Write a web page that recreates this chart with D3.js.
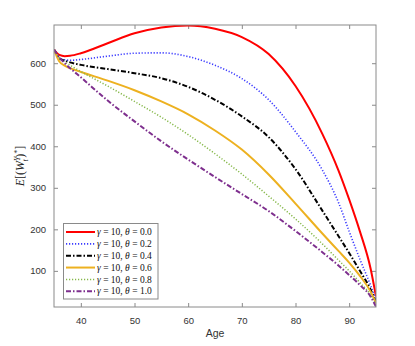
<!DOCTYPE html>
<html><head><meta charset="utf-8">
<script src="https://cdn.jsdelivr.net/npm/d3@7"></script>
<style>body{margin:0;background:#fff}svg{display:block}</style>
</head><body><div id="c"></div>
<script>
const ages    = [35,36,37,38,40,45,50,55,60,65,70,75,80,85,88,90,92,94,95];
const theta00 = [633,620,617,618,624,648,672,686,691,683,663,622,545,430,342,272,195,105,38];
const theta02 = [633,613,608,607,609,617,624,625,616,595,563,512,435,343,265,195,128,65,30];
const theta04 = [633,612,606,602,596,586,576,564,543,512,472,422,345,245,184,143,100,55,25];
const theta06 = [633,604,594,588,579,558,535,508,477,438,392,332,262,190,148,120,88,50,22];
const theta08 = [633,614,603,595,580,545,508,470,428,382,333,280,225,165,126,100,72,42,18];
const theta10 = [633,614,600,588,566,510,460,412,368,326,285,244,196,145,113,90,66,38,14];
const seriesLabels = ["0.0","0.2","0.4","0.6","0.8","1.0"];
const xTicks = [40,50,60,70,80,90];
const yTicks = [100,200,300,400,500,600];

const series = [theta00,theta02,theta04,theta06,theta08,theta10];
const styles = [
  {color:"#ff0000", dash:null, w:2},
  {color:"#3b3bff", dash:"1.2,1.8", w:1.6},
  {color:"#000000", dash:"5,2,1.5,2", w:2},
  {color:"#edb120", dash:null, w:2},
  {color:"#86b84a", dash:"1.2,1.8", w:1.5},
  {color:"#7e2f8e", dash:"5,2,1.5,2", w:2}
];

const W=415,H=346;
const m={l:54,t:25,r:376,b:307};
const svg=d3.select("#c").append("svg").attr("width",W).attr("height",H);
const x=d3.scaleLinear().domain([35,95]).range([m.l,m.r]);
const y=d3.scaleLinear().domain([13,692]).range([m.b,m.t]);

svg.append("defs").append("clipPath").attr("id","clip").append("rect")
  .attr("x",m.l).attr("y",m.t).attr("width",m.r-m.l).attr("height",m.b-m.t);

const axColor="#8a8a8a", txtColor="#333";
const font="'Liberation Sans', Arial, sans-serif";

const gx=svg.append("g").attr("transform",`translate(0,${m.b})`)
  .call(d3.axisBottom(x).tickValues(xTicks).tickSizeInner(-4).tickSizeOuter(0).tickPadding(8));
const gxt=svg.append("g").attr("transform",`translate(0,${m.t})`)
  .call(d3.axisTop(x).tickValues(xTicks).tickSizeInner(-4).tickSizeOuter(0).tickFormat(""));
const gy=svg.append("g").attr("transform",`translate(${m.l},0)`)
  .call(d3.axisLeft(y).tickValues(yTicks).tickSizeInner(-4).tickSizeOuter(0).tickPadding(8));
const gyr=svg.append("g").attr("transform",`translate(${m.r},0)`)
  .call(d3.axisRight(y).tickValues(yTicks).tickSizeInner(-4).tickSizeOuter(0).tickFormat(""));
[gx,gxt,gy,gyr].forEach(g=>{
  g.select(".domain").remove();
  g.selectAll("line").attr("stroke",axColor);
  g.selectAll("text").attr("fill",txtColor).style("font-family",font).style("font-size","9.5px");
});
gx.selectAll("text").attr("dy","0.9em");

const line=d3.line().x((d,i)=>x(ages[i])).y(d=>y(d)).curve(d3.curveMonotoneX);
const gl=svg.append("g").attr("clip-path","url(#clip)");
series.forEach((s,i)=>{
  gl.append("path").datum(s).attr("d",line).attr("fill","none")
    .attr("stroke",styles[i].color).attr("stroke-width",styles[i].w)
    .attr("stroke-dasharray",styles[i].dash);
});

svg.append("rect").attr("x",m.l).attr("y",m.t).attr("width",m.r-m.l).attr("height",m.b-m.t)
  .attr("fill","none").attr("stroke",axColor).attr("stroke-width",1);

svg.append("text").attr("x",(m.l+m.r)/2).attr("y",337).attr("text-anchor","middle")
  .attr("fill",txtColor).style("font-family",font).style("font-size","10.5px").text("Age");

const yl=svg.append("text").attr("transform","translate(24,166) rotate(-90)")
  .attr("text-anchor","middle").attr("fill","#222")
  .style("font-family","'Liberation Serif','DejaVu Serif',serif").style("font-size","12px");
yl.append("tspan").style("font-style","italic").text("E");
yl.append("tspan").text("[(");
yl.append("tspan").style("font-style","italic").text("W");
yl.append("tspan").style("font-style","italic").style("font-size","8px").attr("dy",-4.5).text("Y");
yl.append("tspan").style("font-style","italic").style("font-size","8px").attr("dx",-5).attr("dy",8).text("t");
yl.append("tspan").attr("dx",1.5).attr("dy",-3.5).text(")");
yl.append("tspan").style("font-size","8px").attr("dy",-4.5).text("*");
yl.append("tspan").attr("dy",4.5).text("]");

const lg=svg.append("g");
lg.append("rect").attr("x",63.5).attr("y",223.5).attr("width",94.5).attr("height",75.5)
  .attr("fill","#fff").attr("stroke",axColor).attr("stroke-width",1);
seriesLabels.forEach((lab,i)=>{
  const yy=232+i*11.85;
  lg.append("line").attr("x1",66).attr("x2",95).attr("y1",yy).attr("y2",yy)
    .attr("stroke",styles[i].color).attr("stroke-width",styles[i].w)
    .attr("stroke-dasharray",styles[i].dash);
  const t=lg.append("text").attr("x",97).attr("y",yy+3.2).attr("fill","#111")
    .style("font-family","'Liberation Serif','DejaVu Serif',serif").style("font-size","9.5px");
  t.append("tspan").style("font-style","italic").text("γ");
  t.append("tspan").text(" = 10, ");
  t.append("tspan").style("font-style","italic").text("θ");
  t.append("tspan").text(" = "+lab);
});
</script></body></html>
